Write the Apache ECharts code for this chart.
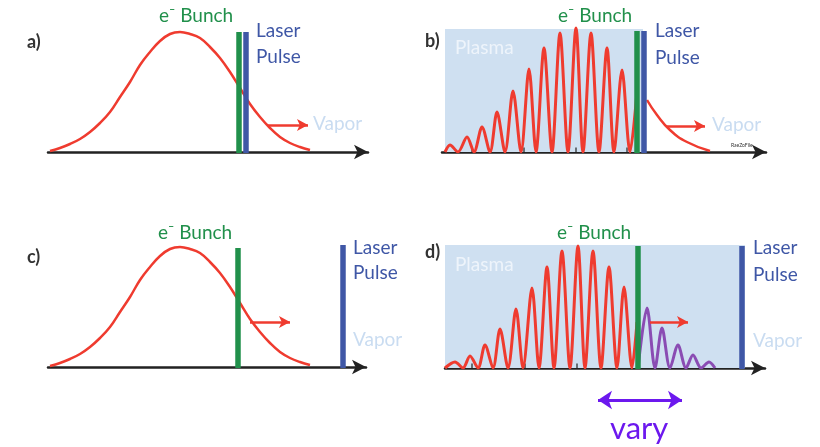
<!DOCTYPE html>
<html>
<head>
<meta charset="utf-8">
<script src="https://cdn.jsdelivr.net/npm/echarts@6/dist/echarts.min.js"></script>
<style>
  html, body { margin: 0; padding: 0; background: #fff; }
  #main { width: 820px; height: 447px; }
</style>
</head>
<body>
<div id="main"></div>
<script>
// position along the axis (px-like units) and height above the axis
var gaussX = [2, 12, 22, 32, 42, 52, 62, 72, 82, 92, 102, 112, 122, 132, 142, 152, 162, 172, 182, 192, 202, 212, 222, 232, 242, 252, 262];
var gaussY = [1, 4, 8, 13, 20, 29, 40, 55, 70, 87, 100, 111, 118, 120, 118, 114, 105, 94, 80, 64, 48, 35, 24, 15, 9, 5, 2];

// panel b: plasma wake (red) and the vapor tail after the laser
var wakeBX = [3, 8, 16, 25, 32, 40, 48, 55, 63, 71, 79, 87, 94, 102, 110, 118, 126, 134, 141, 149, 157, 165, 172, 180, 188, 195];
var wakeBY = [0, 7, 0, 15, 0, 25, 0, 40, 0, 61, 0, 83, 0, 104, 0, 119, 0, 124, 0, 119, 0, 104, 0, 82, 0, 60];
var tailBX = [205, 215, 228, 245, 268];
var tailBY = [52, 37, 22, 10, 1];

// panel d: wake before the bunch (red) and after it (purple)
var wakeDX = [0, 10, 18, 25, 33, 40, 48, 55, 63, 71, 78, 87, 94, 102, 109, 117, 125, 133, 140, 148, 156, 164, 172, 179, 187, 192];
var wakeDY = [0, 6, 0, 12, 0, 23, 0, 39, 0, 59, 0, 80, 0, 101, 0, 117, 0, 122, 0, 117, 0, 101, 0, 81, 0, 46];
var trailDX = [193, 202, 210, 217, 225, 233, 241, 248, 256, 264, 270];
var trailDY = [0, 60, 0, 40, 0, 23, 0, 13, 0, 6, 0];

// small tick marks on the plasma axes
var ticksB = [30, 82, 134, 185];
var ticksD = [27, 80, 132, 187];

// bunch / laser positions per panel (a, b, c, d) and their heights
var bunchX = [191, 195, 190, 193];
var laserX = [198, 202, 295, 297];
var barTop = [120, 121, 119, 122];
var laserTop = [120, 121, 122, 122];
// plasma region [start, end] for panels b and d
var plasmaB = [3, 201];
var plasmaD = [0, 300];
// red arrow [from, to, height] per panel
var arrows = [[220, 260, 27], [225, 263, 26], [202, 242, 45], [205, 243, 46]];
var varyArrow = [153, 237];

var RED = '#ef3b2f', GREEN = '#21904b', BLUE = '#3f57a6', PURPLE = '#8a4cb3', VIOLET = '#6c18ee';
var FONT = 'Lato, "Open Sans", sans-serif';

function pts(xs, ys) {
    return xs.map(function (x, i) { return [x, ys[i]]; });
}

var grids = [
    { left: 48, top: 22, width: 320, height: 130 },
    { left: 442, top: 22, width: 324, height: 130 },
    { left: 48, top: 237, width: 318, height: 130 },
    { left: 445, top: 238, width: 320, height: 130 },
    { left: 445, top: 390, width: 320, height: 20 }   // strip for the "vary" arrow
];

var xAxes = grids.map(function (g, i) {
    return {
        type: 'value', gridIndex: i, min: 0, max: g.width,
        axisLine: { show: i < 4, symbol: ['none', 'arrow'], symbolSize: [11, 14],
            lineStyle: { color: '#222', width: 2.5 } },
        axisTick: { show: false }, axisLabel: { show: false }, splitLine: { show: false }
    };
});
var yAxes = grids.map(function (g, i) {
    return { type: 'value', gridIndex: i, min: 0, max: i < 4 ? 130 : 20, show: false };
});

var series = [];

function redArrow(i) {
    var a = arrows[i];
    return {
        silent: true, symbol: ['none', 'arrow'], symbolSize: [9, 11],
        label: { show: false },
        lineStyle: { color: RED, width: 2.5, type: 'solid' },
        data: [[{ coord: [a[0], a[2]] }, { coord: [a[1], a[2]] }]]
    };
}

function plasmaArea(r, top) {
    return {
        silent: true,
        itemStyle: { color: '#cfe0f1' },
        data: [[{ coord: [r[0], 0] }, { coord: [r[1], top] }]]
    };
}

// main curves
series.push({ type: 'line', xAxisIndex: 0, yAxisIndex: 0, data: pts(gaussX, gaussY),
    smooth: 0.4, showSymbol: false, lineStyle: { color: RED, width: 2.5 }, z: 3,
    markLine: redArrow(0) });
series.push({ type: 'line', xAxisIndex: 1, yAxisIndex: 1, data: pts(wakeBX, wakeBY),
    smooth: 0.3, showSymbol: false, lineStyle: { color: RED, width: 3 }, z: 3,
    markArea: plasmaArea(plasmaB, 123), markLine: redArrow(1) });
series.push({ type: 'line', xAxisIndex: 1, yAxisIndex: 1, data: pts(tailBX, tailBY),
    smooth: true, showSymbol: false, lineStyle: { color: RED, width: 2.5 }, z: 3 });
series.push({ type: 'line', xAxisIndex: 2, yAxisIndex: 2, data: pts(gaussX, gaussY),
    smooth: 0.4, showSymbol: false, lineStyle: { color: RED, width: 2.5 }, z: 3,
    markLine: redArrow(2) });
series.push({ type: 'line', xAxisIndex: 3, yAxisIndex: 3, data: pts(wakeDX, wakeDY),
    smooth: 0.3, showSymbol: false, lineStyle: { color: RED, width: 3 }, z: 3,
    markArea: plasmaArea(plasmaD, 123) });
series.push({ type: 'line', xAxisIndex: 3, yAxisIndex: 3, data: pts(trailDX, trailDY),
    smooth: 0.3, showSymbol: false, lineStyle: { color: PURPLE, width: 3 }, z: 3 });
// red arrow in panel d drawn over the purple wave
series.push({ type: 'line', xAxisIndex: 3, yAxisIndex: 3, data: [], markLine: redArrow(3), z: 4 });

// tick marks
[[1, ticksB], [3, ticksD]].forEach(function (t) {
    series.push({ type: 'scatter', xAxisIndex: t[0], yAxisIndex: t[0], silent: true,
        data: t[1].map(function (x) { return [x, 0]; }),
        symbol: 'rect', symbolSize: [1.5, 5], symbolOffset: [0, -2],
        itemStyle: { color: '#222' }, z: 2 });
});

// "vary" double arrow
series.push({ type: 'line', xAxisIndex: 4, yAxisIndex: 4, data: [],
    markLine: {
        silent: true, symbol: ['arrow', 'arrow'], symbolSize: [14, 14],
        label: { show: false },
        lineStyle: { color: VIOLET, width: 3, type: 'solid' },
        data: [[{ coord: [varyArrow[0], 10] }, { coord: [varyArrow[1], 10] }]]
    } });

// electron bunch (green) and laser pulse (blue) bars
for (var i = 0; i < 4; i++) {
    series.push({ type: 'line', xAxisIndex: i, yAxisIndex: i, clip: false,
        data: [[laserX[i], -1], [laserX[i], laserTop[i]]], showSymbol: false,
        lineStyle: { color: BLUE, width: 5.5, cap: 'butt' }, z: 5 });
    series.push({ type: 'line', xAxisIndex: i, yAxisIndex: i, clip: false,
        data: [[bunchX[i], -1], [bunchX[i], barTop[i]]], showSymbol: false,
        lineStyle: { color: GREEN, width: 5.5, cap: 'butt' }, z: 6 });
}

function txt(x, y, s, color, size, weight) {
    return { type: 'text', left: x, top: y - size * 0.62, z: 100,
        style: { text: s, fill: color, font: (weight || 'normal') + ' ' + size + 'px ' + FONT } };
}

var graphic = [
    txt(27, 44, 'a)', '#333', 18, 'bold'),
    txt(425, 43, 'b)', '#333', 18, 'bold'),
    txt(27, 259, 'c)', '#333', 18, 'bold'),
    txt(425, 254, 'd)', '#333', 18, 'bold'),
    txt(159, 18, 'e\u207B Bunch', GREEN, 19),
    txt(558, 18, 'e\u207B Bunch', GREEN, 19),
    txt(158, 235, 'e\u207B Bunch', GREEN, 19),
    txt(557, 235, 'e\u207B Bunch', GREEN, 19),
    txt(256, 33, 'Laser', BLUE, 19), txt(256, 59, 'Pulse', BLUE, 19),
    txt(655, 33, 'Laser', BLUE, 19), txt(655, 60, 'Pulse', BLUE, 19),
    txt(353, 250, 'Laser', BLUE, 19), txt(353, 275, 'Pulse', BLUE, 19),
    txt(753, 250, 'Laser', BLUE, 19), txt(753, 277, 'Pulse', BLUE, 19),
    txt(313, 126, 'Vapor', '#c9dcf1', 19),
    txt(712, 127, 'Vapor', '#c9dcf1', 19),
    txt(353, 342, 'Vapor', '#c9dcf1', 19),
    txt(753, 343, 'Vapor', '#c9dcf1', 19),
    txt(455, 50, 'Plasma', '#eef4fb', 19),
    txt(455, 267, 'Plasma', '#eef4fb', 19),
    txt(731, 146, 'RaeZoFile', '#333', 5),
    txt(610, 433, 'vary', VIOLET, 31)
];

var chart = echarts.init(document.getElementById('main'));
chart.setOption({
    animation: false,
    backgroundColor: '#fff',
    grid: grids,
    xAxis: xAxes,
    yAxis: yAxes,
    series: series,
    graphic: graphic
});
</script>
</body>
</html>
